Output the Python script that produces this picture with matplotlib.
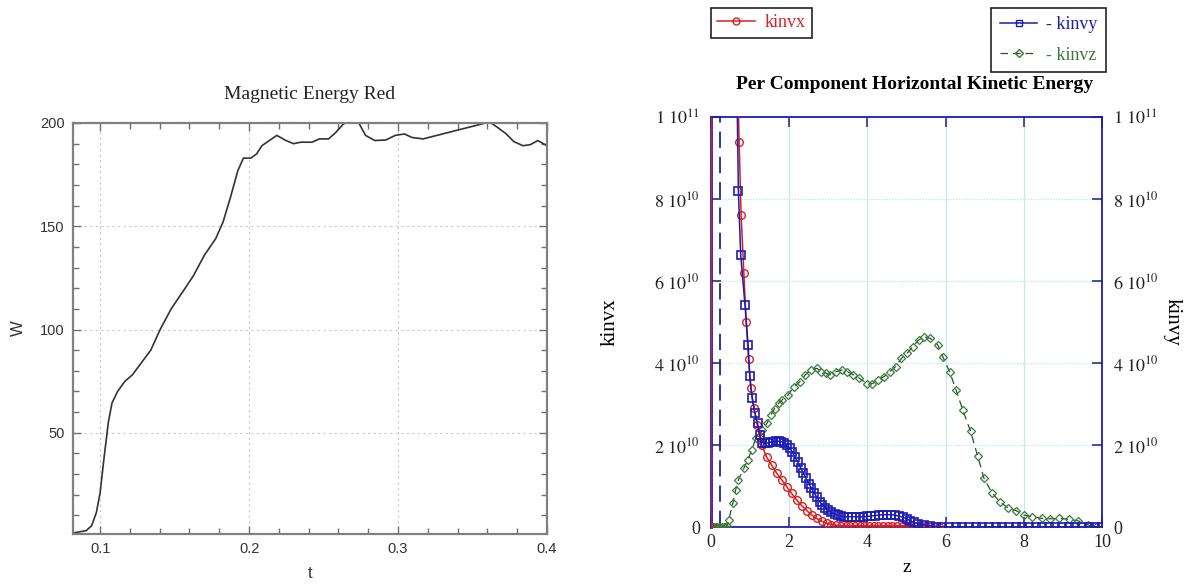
import matplotlib
matplotlib.use("Agg")
import matplotlib.pyplot as plt
from matplotlib.ticker import MultipleLocator, FuncFormatter
from matplotlib.lines import Line2D

# ---- left panel: magnetic energy vs time ----
t = [0.0818, 0.0906, 0.0943, 0.0975, 0.1000, 0.1025, 0.1055, 0.1080, 0.1117, 0.1167,
     0.1216, 0.1278, 0.1340, 0.1403, 0.1477, 0.1552, 0.1626, 0.1700, 0.1776, 0.1825,
     0.1875, 0.1925, 0.1962, 0.2012, 0.2050, 0.2086, 0.2136, 0.2186, 0.2248, 0.2298,
     0.2347, 0.2422, 0.2472, 0.2534, 0.2583, 0.2633, 0.2683, 0.2733, 0.2782, 0.2844,
     0.2919, 0.2981, 0.3043, 0.3093, 0.3168, 0.3615, 0.3665, 0.3727, 0.3777, 0.3839,
     0.3888, 0.3938, 0.4000]
W = [1.5, 2.6, 5.0, 11.4, 21.0, 37.0, 55.0, 64.5, 70.0, 75.0,
     78.0, 84.0, 90.0, 100.0, 110.0, 118.0, 126.0, 136.0, 144.0, 152.0,
     164.0, 177.0, 183.0, 183.0, 185.0, 189.0, 191.5, 194.0, 191.5, 190.0,
     190.7, 190.7, 192.3, 192.3, 195.5, 199.5, 201.5, 200.5, 194.0, 191.5,
     191.8, 194.0, 194.7, 193.0, 192.3, 200.5, 198.0, 194.7, 191.0, 189.0,
     189.5, 191.5, 189.0]

# ---- right panel: kinetic energy per component (units of 1e10) ----
scale = 1e10
kinvx_z = [0.00, 0.02, 0.68, 0.72, 0.77, 0.84, 0.90, 0.96, 1.02, 1.10,
           1.18, 1.25, 1.30, 1.42, 1.55, 1.68, 1.81, 1.94, 2.06, 2.19,
           2.32, 2.45, 2.58, 2.70, 2.83, 2.96, 3.08, 3.20, 3.32, 3.44,
           3.56, 3.68, 3.80, 3.92, 4.04, 4.16, 4.28, 4.40, 4.52, 4.64,
           4.76, 4.88, 5.00, 5.12, 5.24, 5.36, 5.48, 5.60, 5.72, 5.84]
kinvx = [0, 15, 11, 9.4, 7.6, 6.2, 5.0, 4.1, 3.4, 2.9,
         2.5, 2.2, 2.0, 1.71, 1.51, 1.31, 1.15, 0.98, 0.82, 0.66,
         0.52, 0.40, 0.29, 0.21, 0.14, 0.09, 0.06, 0.04, 0.03, 0.03,
         0.03, 0.03, 0.03, 0.03, 0.03, 0.03, 0.03, 0.03, 0.03, 0.03,
         0.03, 0.03, 0.03, 0.02, 0.02, 0.02, 0.02, 0.01, 0.01, 0.0]

kinvy_z = [0.66, 0.70, 0.76, 0.87, 0.95, 0.99, 1.05, 1.12, 1.19, 1.25,
           1.31, 1.38, 1.45, 1.52, 1.59, 1.66, 1.73, 1.80, 1.87, 1.94,
           2.01, 2.08, 2.15, 2.22, 2.29, 2.36, 2.43, 2.50, 2.57, 2.64,
           2.71, 2.78, 2.85, 2.92, 3.00, 3.08, 3.16, 3.24, 3.32, 3.40,
           3.50, 3.60, 3.70, 3.80, 3.90, 4.00, 4.10, 4.20, 4.30, 4.40,
           4.50, 4.60, 4.70, 4.80, 4.90, 5.00, 5.10, 5.20, 5.30, 5.45,
           5.60, 5.75, 5.92, 6.09, 6.26, 6.43, 6.60, 6.77, 6.94, 7.11,
           7.28, 7.45, 7.62, 7.79, 7.96, 8.13, 8.30, 8.47, 8.64, 8.81,
           8.98, 9.15, 9.32, 9.49, 9.66, 9.83, 10.0]
kinvy = [11, 8.2, 6.63, 5.41, 4.44, 3.68, 3.15, 2.79, 2.53, 2.24,
         2.06, 2.04, 2.05, 2.07, 2.08, 2.09, 2.09, 2.08, 2.06, 2.01,
         1.93, 1.83, 1.70, 1.58, 1.45, 1.32, 1.19, 1.06, 0.94, 0.83,
         0.72, 0.62, 0.54, 0.47, 0.41, 0.36, 0.32, 0.29, 0.27, 0.25,
         0.25, 0.25, 0.25, 0.25, 0.25, 0.26, 0.27, 0.28, 0.29, 0.30,
         0.30, 0.30, 0.29, 0.27, 0.24, 0.20, 0.15, 0.11, 0.08, 0.05,
         0.03, 0.01, 0, 0, 0, 0, 0, 0, 0, 0,
         0, 0, 0, 0, 0, 0, 0, 0, 0, 0,
         0, 0, 0, 0, 0, 0, 0]
kinvy_wall_z = 0.23

kinvz_z = [0.00, 0.04, 0.08, 0.12, 0.16, 0.20, 0.24, 0.28, 0.32, 0.36,
           0.40, 0.45, 0.56, 0.63, 0.70, 0.84, 0.94, 1.04, 1.15, 1.23,
           1.31, 1.43, 1.53, 1.63, 1.73, 1.82, 1.97, 2.12, 2.27, 2.41,
           2.56, 2.71, 2.81, 2.95, 3.05, 3.20, 3.35, 3.49, 3.64, 3.79,
           3.99, 4.13, 4.28, 4.43, 4.58, 4.72, 4.87, 5.02, 5.16, 5.31,
           5.46, 5.61, 5.80, 5.93, 6.10, 6.27, 6.44, 6.64, 6.82, 6.98,
           7.18, 7.38, 7.60, 7.80, 8.01, 8.21, 8.46, 8.66, 8.90, 9.15,
           9.39, 9.64, 9.84]
kinvz = [0, 0, 0, 0, 0, 0, 0, 0, 0, 0,
         0.02, 0.17, 0.58, 0.90, 1.15, 1.43, 1.63, 1.88, 2.16, 2.20,
         2.37, 2.53, 2.73, 2.89, 3.02, 3.10, 3.22, 3.42, 3.54, 3.71,
         3.83, 3.87, 3.79, 3.75, 3.71, 3.79, 3.83, 3.79, 3.71, 3.63,
         3.50, 3.50, 3.59, 3.67, 3.79, 3.91, 4.11, 4.24, 4.40, 4.56,
         4.64, 4.60, 4.44, 4.15, 3.79, 3.34, 2.85, 2.33, 1.73, 1.19,
         0.84, 0.62, 0.46, 0.40, 0.29, 0.25, 0.21, 0.20, 0.21, 0.19,
         0.15, 0.05, 0.01]

W_px, H_px = 1194, 585
fig = plt.figure(figsize=(W_px / 100, H_px / 100), dpi=100)


def px_rect(x0, y0, x1, y1):
    return [x0 / W_px, 1 - y1 / H_px, (x1 - x0) / W_px, (y1 - y0) / H_px]


# ================= left =================
ax1 = fig.add_axes(px_rect(73, 123, 547, 534))
ax1.plot(t, W, color="#333333", lw=1.2)
ax1.set_xlim(0.0818, 0.4)
ax1.set_ylim(1, 200)
ax1.xaxis.set_major_locator(MultipleLocator(0.1))
ax1.xaxis.set_minor_locator(MultipleLocator(0.02))
ax1.yaxis.set_major_locator(MultipleLocator(50))
ax1.yaxis.set_minor_locator(MultipleLocator(10))
ax1.xaxis.set_major_formatter(FuncFormatter(lambda v, p: "%.1f" % v))
ax1.grid(True, which="major", color="#c8c8c8", ls=(0, (2, 3)), lw=0.8)
for s in ax1.spines.values():
    s.set_color("#808080")
    s.set_linewidth(1.6)
ax1.tick_params(which="both", direction="in", top=True, right=True,
                colors="#707070", labelcolor="#333333", labelsize=10.5,
                labelfontfamily="Liberation Sans")
ax1.tick_params(which="major", length=6, width=1, pad=6)
ax1.tick_params(which="minor", length=4, width=1)
ax1.set_title("Magnetic Energy Red", family="Liberation Serif", fontsize=14,
              color="#222222", pad=17)
ax1.set_xlabel("t", family="Liberation Sans", fontsize=12, color="#333333", labelpad=7)
ax1.set_ylabel("W", family="Liberation Sans", fontsize=12, color="#333333", labelpad=10)

# ================= right =================
plt.rcParams["mathtext.fontset"] = "stix"
blue = "#1c1cb4"
red = "#d82020"
green = "#3c7a3c"

ax2 = fig.add_axes(px_rect(711, 117, 1102, 527))
ax2.set_xlim(0, 10)
ax2.set_ylim(0, 10 * scale)
ax2.axvline(kinvy_wall_z, color="#22229a", lw=1.3, dashes=(9, 5), zorder=3)
ax2.plot(kinvz_z, [v * scale for v in kinvz], color="#1f5a1f", lw=0.9,
         dashes=(6, 4), marker="D", ms=4, mfc="none", mec=green, mew=0.9, zorder=4)
ax2.plot(kinvx_z, [v * scale for v in kinvx], color=red, lw=1.1,
         marker="o", ms=5.5, mfc="none", mec=red, mew=1.0, zorder=5)
ax2.plot(kinvy_z, [v * scale for v in kinvy], color=blue, lw=1.1,
         marker="s", ms=6, mfc="none", mec=blue, mew=1.2, zorder=6)

ax2.xaxis.set_major_locator(MultipleLocator(2))
ax2.yaxis.set_major_locator(MultipleLocator(2 * scale))
ax2.grid(True, axis="x", color="#c2e8f2", lw=0.9)
ax2.grid(True, axis="y", color="#c2e8f2", lw=1.0, ls=(0, (1, 1)))
ax2.set_axisbelow(True)
for s in ax2.spines.values():
    s.set_color(blue)
    s.set_linewidth(1.3)
ax2.spines["left"].set_linewidth(2.0)


def ytick_fmt(v, pos):
    n = int(round(v / scale))
    if n == 0:
        return "0"
    if n == 10:
        return r"$\mathrm{1\ 10^{11}}$"
    return r"$\mathrm{%d\ 10^{10}}$" % n


ax2.yaxis.set_major_formatter(FuncFormatter(ytick_fmt))
ax2.tick_params(which="both", direction="in", top=True, right=True, length=7,
                width=1.2, colors="#30307a", labelcolor="#222222", labelsize=13,
                pad=8, labelright=True, labelfontfamily="Liberation Serif")
ax2.tick_params(axis="x", pad=5)

ax2.set_title("Per Component Horizontal Kinetic Energy", family="Liberation Serif",
              fontsize=14, fontweight="bold", pad=20, x=0.52)
ax2.set_xlabel("z", family="Liberation Serif", fontsize=14, labelpad=6)
ax2.set_ylabel("kinvx", family="Liberation Serif", fontsize=15)
ax2.yaxis.set_label_coords(-0.235, 0.5)
ax2.text(1.18, 0.5, "kinvy", transform=ax2.transAxes, rotation=270,
         family="Liberation Serif", fontsize=15, ha="center", va="center")

h_x = Line2D([], [], color=red, lw=1.1, marker="o", ms=5, mfc="none", mec=red)
h_y = Line2D([], [], color=blue, lw=1.1, marker="s", ms=5, mfc="none", mec=blue)
h_z = Line2D([], [], color="#1f5a1f", lw=0.9, dashes=(6, 4), marker="D", ms=4,
             mfc="none", mec=green)

leg_kw = dict(frameon=True, fancybox=False, edgecolor="#222222", framealpha=1,
              handlelength=2.1, handletextpad=0.5, borderaxespad=0,
              prop={"family": "Liberation Serif", "size": 13})
leg1 = fig.legend([h_x], ["kinvx"], loc="upper left", borderpad=0.35,
                  bbox_to_anchor=(711 / W_px, 1 - 8 / H_px), **leg_kw)
leg1.get_frame().set_linewidth(1.2)
leg1.get_texts()[0].set_color(red)
leg2 = fig.legend([h_y, h_z], ["- kinvy", "- kinvz"], loc="upper right",
                  bbox_to_anchor=(1106 / W_px, 1 - 8 / H_px), labelspacing=0.75,
                  borderpad=0.45, **leg_kw)
leg2.get_frame().set_linewidth(1.2)
leg2.get_texts()[0].set_color(blue)
leg2.get_texts()[1].set_color(green)

fig.savefig("out.png", dpi=100)
